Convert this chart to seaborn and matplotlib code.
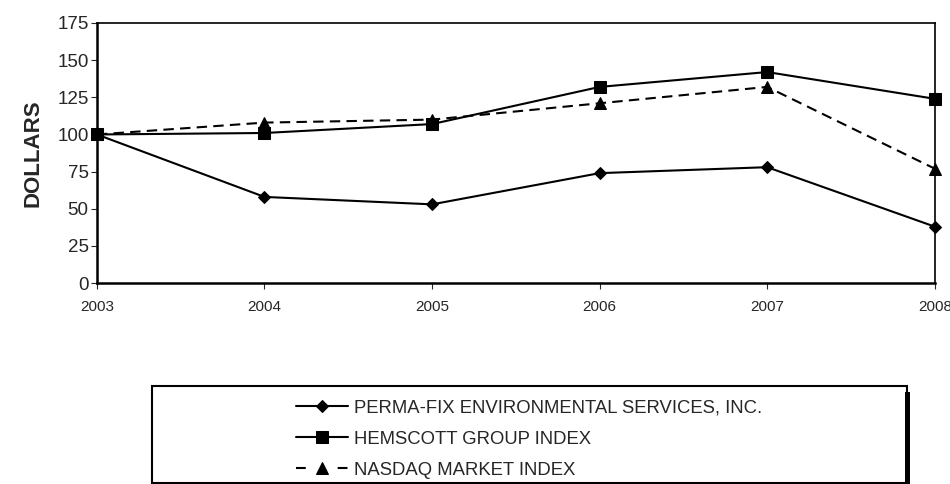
import pandas as pd
import seaborn as sns
import matplotlib.pyplot as plt
from matplotlib.patches import Rectangle

# Datos
years = [2003, 2004, 2005, 2006, 2007, 2008]
perma_fix = [100, 58, 53, 74, 78, 38]
hemscott = [100, 101, 107, 132, 142, 124]
nasdaq = [100, 108, 110, 121, 132, 77]

series_names = [
    "PERMA-FIX ENVIRONMENTAL SERVICES, INC.",
    "HEMSCOTT GROUP INDEX",
    "NASDAQ MARKET INDEX",
]

df = pd.DataFrame({
    "year": years * 3,
    "value": perma_fix + hemscott + nasdaq,
    "serie": [series_names[0]] * 6 + [series_names[1]] * 6 + [series_names[2]] * 6,
})

sns.set_style("white")
plt.rcParams["font.family"] = ["Liberation Sans", "DejaVu Sans"]

fig = plt.figure(figsize=(9.5, 4.84), dpi=100)
ax = fig.add_axes([0.102, 0.415, 0.882, 0.5375])

sns.lineplot(
    data=df, x="year", y="value", hue="serie", style="serie",
    palette=["black"] * 3,
    markers={series_names[0]: "D", series_names[1]: "s", series_names[2]: "^"},
    dashes={series_names[0]: "", series_names[1]: "", series_names[2]: (5, 3)},
    markersize=8, linewidth=1.5, markeredgecolor="black",
    ax=ax, legend=True,
)
# rombo un poco más pequeño y marcadores completos en los bordes
for line in ax.lines:
    line.set_clip_on(False)
    line.set_zorder(3)
    if line.get_marker() == "D":
        line.set_markersize(6.5)

handles, labels = ax.get_legend_handles_labels()
ax.get_legend().remove()
# en la leyenda el trazo discontinuo es "- ▲ -"
handles[2].set_dashes((4.7, 15.3))

ax.set_xlim(2003, 2008)
ax.set_ylim(0, 175)
ax.set_xticks(years)
ax.set_yticks(range(0, 176, 25))
ax.tick_params(axis="x", labelsize=11, length=4, direction="out", bottom=True, pad=8)
ax.tick_params(axis="y", labelsize=13.5, length=4, direction="out", left=True, pad=2)
ax.set_xlabel("")
ax.set_ylabel("DOLLARS", fontsize=16, fontweight="bold", labelpad=10)

for side, sp in ax.spines.items():
    sp.set_visible(True)
    sp.set_color("black")
    sp.set_linewidth(1.8 if side in ("left", "bottom") else 1.2)

# Marco de la leyenda
fig.patches.append(Rectangle((0.16, 0.002), 0.795, 0.2005, transform=fig.transFigure,
                             fill=False, edgecolor="black", linewidth=1.5))
fig.patches.append(Rectangle((0.953, 0.0), 0.005, 0.19, transform=fig.transFigure,
                             facecolor="black", edgecolor="none"))

fig.legend(
    handles, labels, loc="upper center", bbox_to_anchor=(0.557, 0.208),
    frameon=False, fontsize=13.3, handlelength=2.8, handletextpad=0.3,
    labelspacing=0.75,
)

plt.savefig("out.png", dpi=100)
